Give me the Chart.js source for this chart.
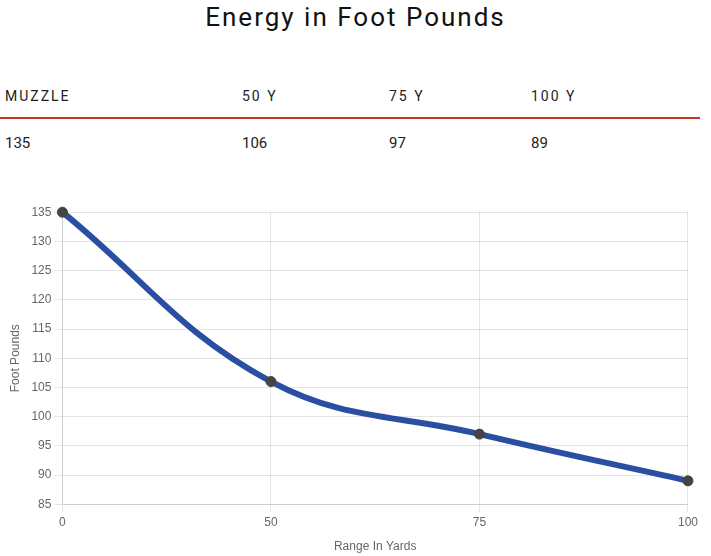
<!DOCTYPE html>
<html>
<head>
<meta charset="utf-8">
<script src="https://cdn.jsdelivr.net/npm/chart.js@4.4.1/dist/chart.umd.min.js"></script>
<style>
  html, body { margin: 0; padding: 0; background: #fff; }
  body { width: 711px; height: 556px; position: relative; overflow: hidden; }
  #title { position: absolute; left: 0; width: 711px; top: 2px; text-align: center;
    font-family: "Roboto", "Liberation Sans", sans-serif; font-size: 26px; letter-spacing: 2px; color: #111; font-weight: 400; }
  .hdr, .val { position: absolute; font-family: "Liberation Sans Narrow", "Roboto", sans-serif; color: #222; }
  .hdr { top: 88px; font-size: 14px; letter-spacing: 2px; }
  .val { top: 134px; font-size: 15px; }
  #rule { position: absolute; left: 0; top: 117px; width: 700px; height: 2px; background: #cc3322; }
  #wrap { position: absolute; left: 0; top: 202px; width: 701px; height: 354px; }
</style>
</head>
<body>
<div id="title">Energy in Foot Pounds</div>
<div id="table"></div>
<div id="rule"></div>
<div id="wrap"><canvas id="c"></canvas></div>
<script>
const rangeLabels = ['0', '50', '75', '100'];
const energyValues = [135, 106, 97, 89];
const tableHeaders = ['MUZZLE', '50 Y', '75 Y', '100 Y'];
const tableValues = ['135', '106', '97', '89'];
const colX = [5, 242, 389, 531];

const table = document.getElementById('table');
tableHeaders.forEach((h, i) => {
  const d = document.createElement('div');
  d.className = 'hdr'; d.style.left = colX[i] + 'px'; d.textContent = h;
  table.appendChild(d);
  const v = document.createElement('div');
  v.className = 'val'; v.style.left = colX[i] + 'px'; v.textContent = tableValues[i];
  table.appendChild(v);
});

new Chart(document.getElementById('c'), {
  type: 'line',
  data: {
    labels: rangeLabels,
    datasets: [{
      data: energyValues,
      borderColor: '#2a4fa2',
      borderWidth: 6,
      tension: 0.4,
      fill: false,
      clip: false,
      pointRadius: 5,
      pointHoverRadius: 5,
      pointBackgroundColor: '#444',
      pointBorderColor: '#444',
      pointBorderWidth: 1
    }]
  },
  options: {
    responsive: true,
    maintainAspectRatio: false,
    animation: false,
    layout: { padding: { top: 6, left: 8, right: 0, bottom: 2 } },
    plugins: { legend: { display: false }, tooltip: { enabled: false } },
    scales: {
      x: {
        ticks: { color: '#666', font: { size: 12 } },
        title: { display: true, text: 'Range In Yards', color: '#666', font: { size: 12 }, padding: { top: 7, bottom: 0 } }
      },
      y: {
        min: 85, max: 135,
        ticks: { stepSize: 5, color: '#666', font: { size: 12 } },
        title: { display: true, text: 'Foot Pounds', color: '#666', font: { size: 12 }, padding: { top: 0, bottom: 6 } }
      }
    }
  }
});
</script>
</body>
</html>
